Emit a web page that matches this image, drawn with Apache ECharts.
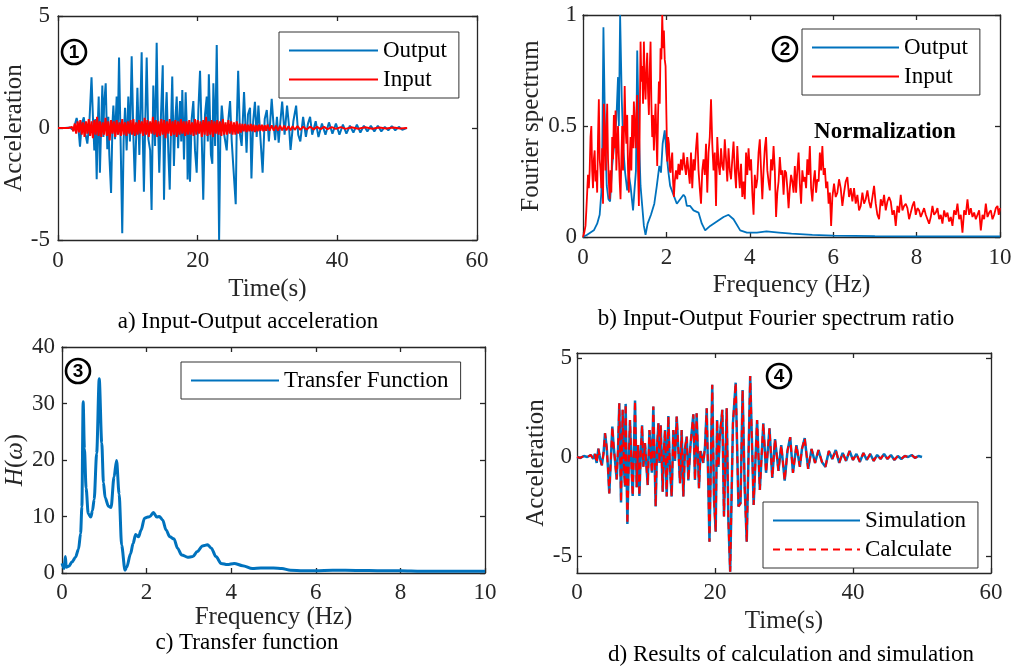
<!DOCTYPE html>
<html><head><meta charset="utf-8">
<script src="https://cdn.jsdelivr.net/npm/echarts@6/dist/echarts.min.js"></script>
<style>html,body{margin:0;padding:0;background:#fff}#c{width:1020px;height:666px}</style>
</head><body><div id="c"></div>
<script>
// ---------------- DATA ----------------
// a) Input-Output acceleration  [time s, acceleration]
const outputA = [[0,0],[1.0,0],[1.7,0.02],[2.2,-0.1],[2.67,0.45],[2.9,0.1],[3.15,-0.83],[3.4,0.2],[3.7,0.48],[3.95,-0.3],[4.2,-0.7],[4.5,0.3],[4.8,2.26],[5.0,0.5],[5.2,-1.0],[5.35,0.4],[5.54,-2.29],[5.7,0.2],[5.83,1.4],[6.0,-2.0],[6.2,0.3],[6.35,1.9],[6.5,-0.4],[6.6,1.0],[6.83,2.0],[7.06,-0.95],[7.2,0.5],[7.35,-1.2],[7.6,-2.9],[7.8,0.2],[7.93,1.0],[8.16,-0.5],[8.4,1.4],[8.55,-0.3],[8.74,3.15],[8.98,-0.8],[9.2,-4.7],[9.4,-0.5],[9.6,0.9],[9.83,-1.0],[10.07,1.4],[10.3,-0.6],[10.55,3.2],[10.8,-0.4],[11.0,-2.4],[11.2,-0.3],[11.37,1.8],[11.65,-1.2],[11.98,3.38],[12.15,-0.5],[12.3,-2.85],[12.5,0.3],[12.7,3.15],[12.94,-0.5],[13.2,-1.0],[13.4,-3.66],[13.65,1.9],[13.9,-0.8],[14.13,3.8],[14.3,0.4],[14.5,-2.0],[14.75,0.6],[15.0,2.8],[15.18,-3.2],[15.4,0.5],[15.56,1.6],[15.8,-1.1],[16.0,-2.75],[16.2,0.3],[16.36,2.3],[16.6,-1.7],[16.8,0.4],[17.0,1.4],[17.2,-0.9],[17.47,1.2],[17.65,-0.6],[17.8,1.7],[18.04,-1.4],[18.28,1.6],[18.5,-0.5],[18.56,-2.3],[18.75,0.2],[18.9,-2.4],[19.14,0.4],[19.38,1.2],[19.62,-1.0],[19.86,-2.0],[20.1,0.8],[20.34,2.55],[20.58,-0.4],[20.8,-3.2],[21.05,0.6],[21.3,1.4],[21.45,-0.6],[21.6,2.4],[21.9,-1.2],[22.1,-1.6],[22.25,2.0],[22.5,-0.8],[22.73,3.7],[22.9,-0.2],[23.07,-5.0],[23.25,-0.3],[23.45,1.0],[23.8,-0.3],[24.16,-1.0],[24.4,0.4],[24.64,1.2],[24.88,-0.6],[25.1,-1.7],[25.45,-3.4],[25.6,0.2],[25.8,2.55],[26.06,-0.3],[26.3,-0.8],[26.64,1.6],[27.0,-1.1],[27.2,0.6],[27.5,0.9],[27.7,-2.25],[27.95,0.3],[28.2,1.17],[28.45,-0.4],[28.7,1.0],[29.0,-0.5],[29.3,-2.0],[29.6,0.4],[29.9,0.8],[30.2,-0.6],[30.6,1.3],[30.85,0.2],[31.1,-0.54],[31.35,0.5],[31.6,-0.65],[31.85,0.3],[32.1,1.18],[32.45,-0.3],[32.8,1.0],[33.05,0.2],[33.3,-0.98],[33.7,0.3],[34.1,1.0],[34.4,-0.3],[34.7,-0.6],[35.1,0.5],[35.5,-0.4],[35.8,0.2],[36.1,0.5],[36.4,-0.3],[36.9,0.3],[37.3,-0.4],[37.8,0.2],[38.3,-0.3],[38.8,0.25],[39.3,-0.25],[39.8,0.2],[40.3,-0.3],[40.8,0.15],[41.3,-0.25],[41.8,0.1],[42.3,-0.2],[42.8,0.15],[43.3,-0.2],[43.8,0.1],[44.3,-0.15],[44.8,0.1],[45.3,-0.15],[45.8,0.1],[46.3,-0.15],[46.8,0.05],[47.3,-0.1],[47.8,0.08],[48.3,-0.1],[48.8,0.05],[49.3,-0.08],[49.9,0]];
const inputA = [[0,0],[1.5,0],[2.0,0.05],[2.2,-0.15],[2.4,0.2],[2.6,-0.25],[2.8,0.3],[3.0,-0.2],[3.2,0.35],[3.4,-0.3],[3.6,0.25],[3.8,-0.4],[4.0,0.3],[4.2,-0.25],[4.4,0.4],[4.6,-0.35],[4.8,0.3],[5.0,-0.45],[5.2,0.35],[5.4,-0.3],[5.6,0.5],[5.8,-0.35],[6.0,0.3],[6.2,-0.4],[6.4,0.25],[6.6,-0.3],[6.8,0.45],[7.0,-0.35],[7.2,0.3],[7.4,-0.55],[7.6,0.35],[7.8,-0.25],[8.0,0.3],[8.2,-0.4],[8.4,0.35],[8.6,-0.3],[8.8,0.25],[9.0,-0.35],[9.2,0.4],[9.4,-0.3],[9.6,0.25],[9.8,-0.35],[10.0,0.3],[10.2,-0.25],[10.4,0.35],[10.6,-0.3],[10.8,0.4],[11.0,-0.35],[11.2,0.25],[11.4,-0.3],[11.6,0.35],[11.8,-0.25],[12.0,0.3],[12.2,-0.35],[12.4,0.45],[12.6,-0.3],[12.8,0.35],[13.0,-0.4],[13.2,0.3],[13.4,-0.25],[13.6,0.5],[13.8,-0.3],[14.0,0.35],[14.2,-0.4],[14.4,0.3],[14.6,-0.35],[14.8,0.4],[15.0,-0.3],[15.2,0.35],[15.4,-0.45],[15.6,0.3],[15.8,-0.25],[16.0,0.4],[16.2,-0.35],[16.4,0.3],[16.6,-0.3],[16.8,0.35],[17.0,-0.4],[17.2,0.3],[17.4,-0.3],[17.6,0.4],[17.8,-0.25],[18.0,0.3],[18.2,-0.35],[18.4,0.3],[18.6,-0.3],[18.8,0.35],[19.0,-0.3],[19.2,0.25],[19.4,-0.35],[19.6,0.4],[19.8,-0.3],[20.0,0.35],[20.2,-0.25],[20.4,0.3],[20.6,-0.4],[20.8,0.35],[21.0,-0.3],[21.2,0.5],[21.4,-0.35],[21.6,0.3],[21.8,-0.3],[22.0,0.35],[22.2,-0.4],[22.4,0.3],[22.6,-0.25],[22.8,0.35],[23.0,-0.3],[23.2,0.3],[23.4,-0.35],[23.6,0.4],[23.8,-0.3],[24.0,0.25],[24.2,-0.3],[24.4,0.35],[24.6,-0.25],[24.8,0.3],[25.0,-0.3],[25.2,0.25],[25.4,-0.3],[25.6,0.3],[25.8,-0.25],[26.0,0.2],[26.2,-0.2],[26.4,0.18],[26.6,-0.15],[26.8,0.18],[27.0,-0.18],[27.2,0.15],[27.4,-0.15],[27.6,0.18],[27.8,-0.15],[28.0,0.15],[28.2,-0.18],[28.4,0.12],[28.6,-0.15],[28.8,0.15],[29.0,-0.12],[29.2,0.15],[29.4,-0.15],[29.6,0.12],[29.8,-0.12],[30.0,0.15],[30.3,-0.12],[30.6,0.12],[30.9,-0.12],[31.2,0.1],[31.5,-0.12],[31.8,0.1],[32.1,-0.1],[32.4,0.1],[32.7,-0.1],[33.0,0.08],[33.3,-0.1],[33.6,0.08],[33.9,-0.08],[34.3,0.08],[34.7,-0.08],[35.1,0.06],[35.6,-0.07],[36.1,0.06],[36.6,-0.06],[37.1,0.05],[37.6,-0.05],[38.1,0.05],[38.6,-0.05],[39.2,0.04],[39.8,-0.04],[40.5,0.04],[41.2,-0.04],[42,0.03],[43,-0.03],[44,0.03],[45,-0.03],[46,0.02],[47,-0.02],[48,0.02],[49,-0.02],[50,0]];

// b) Normalized Fourier spectrum [frequency Hz, amplitude]
const outputB = [[0,0],[0.1,0.01],[0.18,0.02],[0.26,0.03],[0.34,0.06],[0.4,0.1],[0.44,0.2],[0.46,0.35],[0.49,0.945],[0.53,0.47],[0.57,0.23],[0.61,0.17],[0.65,0.16],[0.7,0.32],[0.75,0.42],[0.8,0.53],[0.84,0.72],[0.86,0.5],[0.89,1.0],[0.93,0.62],[0.97,0.39],[1.01,0.29],[1.06,0.21],[1.1,0.28],[1.14,0.23],[1.2,0.12],[1.23,0.2],[1.27,0.3],[1.3,0.84],[1.34,0.47],[1.38,0.23],[1.42,0.14],[1.46,0.05],[1.5,0.01],[1.55,0.06],[1.63,0.1],[1.71,0.15],[1.77,0.23],[1.83,0.32],[1.87,0.29],[1.91,0.42],[1.96,0.48],[2.0,0.38],[2.05,0.29],[2.09,0.23],[2.17,0.19],[2.25,0.15],[2.33,0.17],[2.41,0.19],[2.45,0.18],[2.49,0.14],[2.57,0.14],[2.65,0.12],[2.77,0.11],[2.85,0.06],[2.93,0.03],[3.05,0.05],[3.21,0.07],[3.37,0.09],[3.49,0.1],[3.61,0.08],[3.77,0.03],[3.93,0.02],[4.17,0.02],[4.4,0.025],[4.7,0.02],[5.0,0.015],[5.5,0.01],[6.0,0.006],[7.0,0.004],[8.0,0.003],[9.0,0.003],[10.0,0.003]];
const inputB = [[0,0],[0.03,0.02],[0.06,0.05],[0.08,0.12],[0.1,0.2],[0.12,0.28],[0.14,0.22],[0.16,0.3],[0.18,0.45],[0.2,0.5],[0.22,0.3],[0.24,0.22],[0.26,0.35],[0.28,0.39],[0.3,0.25],[0.32,0.3],[0.34,0.2],[0.36,0.45],[0.38,0.62],[0.4,0.35],[0.42,0.3],[0.44,0.22],[0.46,0.4],[0.48,0.15],[0.5,0.6],[0.52,0.5],[0.54,0.3],[0.56,0.45],[0.58,0.6],[0.6,0.35],[0.62,0.25],[0.64,0.17],[0.66,0.3],[0.68,0.2],[0.7,0.45],[0.72,0.35],[0.74,0.55],[0.76,0.4],[0.78,0.57],[0.8,0.3],[0.82,0.42],[0.84,0.5],[0.86,0.36],[0.88,0.25],[0.9,0.17],[0.92,0.35],[0.94,0.5],[0.96,0.3],[0.98,0.45],[1.0,0.68],[1.02,0.5],[1.04,0.42],[1.06,0.55],[1.08,0.3],[1.1,0.2],[1.12,0.35],[1.14,0.45],[1.16,0.3],[1.18,0.55],[1.2,0.4],[1.22,0.61],[1.24,0.5],[1.26,0.4],[1.28,0.55],[1.3,0.64],[1.32,0.3],[1.34,0.14],[1.36,0.5],[1.38,0.88],[1.4,0.7],[1.42,0.77],[1.44,0.6],[1.46,0.88],[1.48,0.7],[1.5,0.62],[1.52,0.75],[1.54,0.83],[1.56,0.65],[1.58,0.55],[1.6,0.75],[1.62,0.88],[1.64,0.6],[1.66,0.45],[1.68,0.55],[1.7,0.39],[1.72,0.5],[1.74,0.6],[1.76,0.45],[1.78,0.32],[1.8,0.55],[1.82,0.7],[1.84,0.6],[1.86,0.85],[1.88,0.8],[1.9,1.0],[1.92,0.85],[1.94,0.93],[1.96,0.8],[1.98,0.77],[2.0,0.55],[2.02,0.34],[2.04,0.45],[2.06,0.42],[2.08,0.3],[2.1,0.29],[2.12,0.35],[2.14,0.38],[2.16,0.25],[2.18,0.18],[2.2,0.25],[2.23,0.3],[2.26,0.26],[2.29,0.33],[2.32,0.28],[2.35,0.35],[2.38,0.3],[2.41,0.38],[2.44,0.32],[2.47,0.28],[2.5,0.36],[2.53,0.3],[2.56,0.24],[2.59,0.38],[2.62,0.22],[2.65,0.35],[2.68,0.3],[2.71,0.4],[2.74,0.47],[2.77,0.3],[2.8,0.22],[2.83,0.15],[2.86,0.3],[2.89,0.35],[2.92,0.28],[2.95,0.42],[2.98,0.2],[3.01,0.38],[3.04,0.45],[3.07,0.62],[3.1,0.42],[3.13,0.3],[3.16,0.38],[3.19,0.14],[3.22,0.45],[3.25,0.33],[3.28,0.28],[3.31,0.4],[3.34,0.32],[3.37,0.3],[3.4,0.44],[3.43,0.35],[3.46,0.25],[3.49,0.4],[3.52,0.3],[3.55,0.26],[3.58,0.35],[3.61,0.43],[3.64,0.3],[3.67,0.22],[3.7,0.41],[3.73,0.3],[3.76,0.22],[3.79,0.33],[3.82,0.18],[3.85,0.25],[3.88,0.17],[3.91,0.38],[3.94,0.28],[3.97,0.4],[4.0,0.3],[4.03,0.35],[4.06,0.2],[4.09,0.1],[4.12,0.28],[4.15,0.22],[4.18,0.26],[4.21,0.38],[4.24,0.44],[4.27,0.3],[4.3,0.17],[4.33,0.3],[4.36,0.4],[4.39,0.45],[4.42,0.3],[4.45,0.25],[4.48,0.21],[4.51,0.35],[4.54,0.3],[4.57,0.41],[4.6,0.3],[4.63,0.09],[4.66,0.2],[4.69,0.25],[4.72,0.36],[4.75,0.28],[4.78,0.3],[4.81,0.19],[4.84,0.3],[4.87,0.29],[4.9,0.22],[4.93,0.13],[4.96,0.22],[4.99,0.28],[5.02,0.25],[5.05,0.2],[5.08,0.32],[5.11,0.2],[5.14,0.3],[5.17,0.38],[5.2,0.24],[5.23,0.15],[5.26,0.3],[5.29,0.25],[5.32,0.27],[5.35,0.22],[5.38,0.35],[5.41,0.28],[5.44,0.41],[5.47,0.22],[5.5,0.16],[5.53,0.25],[5.56,0.3],[5.59,0.2],[5.62,0.26],[5.65,0.25],[5.68,0.38],[5.71,0.3],[5.74,0.41],[5.77,0.28],[5.8,0.31],[5.83,0.22],[5.86,0.25],[5.89,0.15],[5.92,0.2],[5.95,0.05],[5.98,0.18],[6.02,0.24],[6.06,0.18],[6.1,0.2],[6.14,0.26],[6.18,0.22],[6.22,0.14],[6.26,0.2],[6.3,0.25],[6.34,0.27],[6.38,0.18],[6.42,0.22],[6.46,0.16],[6.5,0.22],[6.54,0.15],[6.58,0.19],[6.62,0.12],[6.66,0.14],[6.7,0.2],[6.74,0.15],[6.78,0.17],[6.82,0.21],[6.86,0.16],[6.9,0.13],[6.94,0.18],[6.98,0.23],[7.02,0.15],[7.06,0.1],[7.1,0.08],[7.14,0.17],[7.18,0.14],[7.22,0.19],[7.26,0.12],[7.3,0.16],[7.34,0.18],[7.38,0.16],[7.42,0.1],[7.46,0.12],[7.5,0.05],[7.54,0.14],[7.58,0.11],[7.62,0.19],[7.66,0.12],[7.7,0.14],[7.74,0.15],[7.78,0.13],[7.82,0.08],[7.86,0.11],[7.9,0.14],[7.94,0.16],[7.98,0.1],[8.02,0.13],[8.06,0.12],[8.1,0.09],[8.14,0.11],[8.18,0.13],[8.22,0.1],[8.26,0.08],[8.3,0.06],[8.34,0.09],[8.38,0.14],[8.42,0.1],[8.46,0.11],[8.5,0.13],[8.54,0.08],[8.58,0.1],[8.62,0.06],[8.66,0.12],[8.7,0.09],[8.74,0.11],[8.78,0.07],[8.82,0.09],[8.86,0.05],[8.9,0.12],[8.94,0.1],[8.98,0.15],[9.02,0.08],[9.06,0.1],[9.1,0.02],[9.14,0.12],[9.18,0.1],[9.22,0.17],[9.26,0.1],[9.3,0.13],[9.34,0.09],[9.38,0.11],[9.42,0.08],[9.46,0.1],[9.5,0.12],[9.54,0.03],[9.58,0.1],[9.62,0.08],[9.66,0.15],[9.7,0.09],[9.74,0.11],[9.78,0.12],[9.82,0.08],[9.86,0.1],[9.9,0.13],[9.94,0.14],[9.97,0.1],[10,0.13]];

// c) Transfer function [frequency Hz, |H|]
const transferC = [[0,1.7],[0.05,0.8],[0.08,2.9],[0.1,1.0],[0.16,1.2],[0.24,2.0],[0.32,2.8],[0.39,4.2],[0.44,7],[0.47,11.7],[0.5,30.3],[0.53,22],[0.57,15],[0.62,10.5],[0.68,9.9],[0.72,11],[0.76,13],[0.82,21.2],[0.88,34.4],[0.94,23],[0.98,16],[1.02,13.3],[1.1,11.8],[1.16,11.6],[1.23,17],[1.29,19.9],[1.35,14],[1.41,4.9],[1.49,0.5],[1.53,1.0],[1.62,3.4],[1.68,5.2],[1.74,6.8],[1.81,6.4],[1.87,7.6],[1.95,9.7],[2.03,9.9],[2.08,10],[2.16,10.7],[2.24,9.9],[2.3,10.0],[2.38,9.4],[2.46,7.6],[2.55,6.4],[2.65,6.0],[2.73,4.4],[2.83,3.2],[2.97,2.8],[3.09,2.9],[3.2,3.8],[3.32,4.8],[3.44,5.0],[3.53,4.4],[3.64,2.9],[3.76,1.7],[3.91,1.5],[4.07,1.7],[4.27,1.3],[4.5,0.8],[4.7,0.9],[5.0,0.9],[5.2,0.8],[5.4,0.5],[5.7,0.4],[6.0,0.4],[6.4,0.5],[7.0,0.45],[7.5,0.4],[8.0,0.4],[8.5,0.3],[9.0,0.3],[9.5,0.3],[10,0.3]];

// d) Simulation vs calculation [time s, acceleration]
const simulationD = [[0,0],[0.5,-0.05],[1.0,0.05],[1.5,0.0],[2.0,0.1],[2.36,-0.1],[2.6,0.15],[2.85,-0.3],[3.1,0.42],[3.35,-0.1],[3.6,-0.42],[3.85,0.2],[4.06,1.2],[4.3,0.5],[4.5,-0.6],[4.68,-1.84],[4.9,-0.2],[5.12,1.53],[5.3,0.6],[5.5,-0.15],[5.75,-1.13],[5.95,0.4],[6.13,2.71],[6.38,-2.3],[6.62,2.38],[6.8,-0.5],[6.96,-1.5],[7.05,2.68],[7.3,-3.39],[7.5,-0.3],[7.68,1.87],[7.9,-0.5],[8.07,-1.97],[8.25,0.4],[8.41,2.85],[8.65,-1.53],[8.85,0.6],[9.04,-1.97],[9.25,0.3],[9.43,1.6],[9.62,-0.49],[9.85,0.7],[10.05,-0.4],[10.25,-1.42],[10.5,1.36],[10.7,0.2],[10.85,-0.8],[11.06,2.55],[11.4,-2.5],[11.6,0.5],[11.8,1.7],[11.95,-0.3],[12.13,1.6],[12.42,-1.75],[12.6,0.3],[12.76,1.36],[13.0,-2.0],[13.24,2.07],[13.45,-0.4],[13.72,-2.0],[13.96,1.36],[14.2,-0.2],[14.45,2.04],[14.7,0.3],[14.93,-1.33],[15.17,1.36],[15.41,-2.0],[15.65,0.4],[15.9,1.03],[16.14,-1.19],[16.45,0.6],[16.86,2.15],[17.1,-1.16],[17.34,2.2],[17.68,-1.58],[17.9,0.3],[18.07,0.08],[18.3,-0.3],[18.55,0.5],[18.8,2.46],[19.2,-4.28],[19.6,3.64],[19.86,-2.17],[20.1,-3.77],[20.3,1.87],[20.5,-0.5],[20.7,1.03],[21.06,2.38],[21.3,-3.01],[21.7,2.46],[21.93,-3.1],[22.2,-5.79],[22.6,1.7],[23.0,3.75],[23.4,-2.5],[23.7,-2.34],[24.0,3.38],[24.3,-1.5],[24.6,-4.28],[25.1,4.09],[25.6,-2.42],[26.1,1.87],[26.5,-1.67],[27.0,1.7],[27.4,-0.8],[27.9,1.45],[28.3,-1.06],[28.7,0.9],[29.2,-0.7],[29.6,0.6],[30.1,-1.2],[30.5,0.3],[30.9,1.0],[31.3,-0.8],[31.8,0.6],[32.3,-0.5],[32.6,0.4],[33.0,0.95],[33.5,-0.6],[34.0,0.4],[34.5,-0.3],[35.0,0.35],[35.5,-0.25],[36.0,-0.5],[36.5,0.3],[37.0,-0.1],[37.5,0.35],[38.0,-0.3],[38.5,0.2],[39.0,-0.2],[39.5,0.3],[40.0,-0.15],[40.5,0.15],[41.0,-0.25],[41.5,0.2],[42.0,-0.15],[42.5,0.15],[43.0,-0.2],[43.5,0.1],[44.0,-0.1],[44.5,0.15],[45.0,-0.1],[45.5,0.1],[46.0,-0.15],[46.5,0.05],[47.0,-0.1],[47.5,0.05],[48.0,0.0],[48.5,0.1],[49.0,-0.05],[49.5,0.05],[50.0,0.0]];
const calculateD = simulationD; // the calculated response coincides with the simulation

// tick values
const ticksTime = [0, 20, 40, 60];
const ticksFreq = [0, 2, 4, 6, 8, 10];
const ticksAccA = [-5, 0, 5];
const ticksSpec = [0, 0.5, 1];
const ticksH = [0, 10, 20, 30, 40];
const ticksAccD = [-5, 0, 5];

// ---------------- CHART ----------------
const FONT = '"Liberation Serif", "Times New Roman", serif';
const AX = '#262626';
const BLUE = '#0072BD', RED = '#FF0000';

function axisPair(kind, gi, min, max, ticks, name, nameGap, margin, nameRich) {
  const lineStyle = {color: AX, width: 1.3};
  const nts = {fontFamily: FONT, fontSize: 25, color: AX};
  if (nameRich) nts.rich = nameRich;
  const main = {
    type: 'value', gridIndex: gi, min, max,
    position: kind === 'x' ? 'bottom' : 'left',
    name, nameLocation: 'middle', nameGap, nameTextStyle: nts,
    axisLine: {show: true, onZero: false, lineStyle},
    axisTick: {show: true, inside: true, length: 5, customValues: ticks, lineStyle},
    axisLabel: {show: true, margin, customValues: ticks, fontFamily: FONT, fontSize: 23, color: AX,
      showMinLabel: true, showMaxLabel: true, hideOverlap: false},
    splitLine: {show: false}
  };
  const mirror = {
    type: 'value', gridIndex: gi, min, max,
    position: kind === 'x' ? 'top' : 'right',
    axisLine: {show: true, onZero: false, lineStyle},
    axisTick: {show: true, inside: true, length: 5, customValues: ticks, lineStyle},
    axisLabel: {show: false},
    splitLine: {show: false}
  };
  return [main, mirror];
}

const xAxes = [].concat(
  axisPair('x', 0, 0, 60, ticksTime, 'Time(s)', 37, 9),
  axisPair('x', 1, 0, 10, ticksFreq, 'Frequency (Hz)', 36, 9),
  axisPair('x', 2, 0, 10, ticksFreq, 'Frequency (Hz)', 32, 8),
  axisPair('x', 3, 0, 60, ticksTime, 'Time(s)', 36, 8)
);
const yAxes = [].concat(
  axisPair('y', 0, -5, 5, ticksAccA, 'Acceleration', 29, 8),
  axisPair('y', 1, 0, 1, ticksSpec, 'Fourier spectrum', 38, 6),
  axisPair('y', 2, 0, 40, ticksH, '{i|H}({i|\u03c9})', 33, 7,
    {i: {fontFamily: FONT, fontSize: 25, fontStyle: 'italic', color: AX}}),
  axisPair('y', 3, -5.86, 5.25, ticksAccD, 'Acceleration', 28, 5)
);

function line(name, data, gi, color, width, dash, z, smooth) {
  const s = {
    type: 'line', name, data, xAxisIndex: gi * 2, yAxisIndex: gi * 2,
    showSymbol: false, symbol: 'none', animation: false, z: z || 2,
    lineStyle: {color, width, type: dash || 'solid'}, itemStyle: {color}
  };
  if (smooth) { s.smooth = smooth; s.smoothMonotone = 'x'; }
  return s;
}

const legendBase = {
  orient: 'vertical', itemHeight: 22, itemGap: 6, padding: [7, 12, 7, 9],
  borderColor: '#333', borderWidth: 1, backgroundColor: '#fff', borderRadius: 0,
  selectedMode: false, textStyle: {fontFamily: FONT, fontSize: 23, color: '#000'},
  itemStyle: {color: 'rgba(0,0,0,0)', borderWidth: 0, opacity: 0}
};

function txt(x, y, text, size, extra) {
  return {type: 'text', x, y, z: 100, style: Object.assign({
    text, fontFamily: FONT, fontSize: size, fill: '#000',
    align: 'center', verticalAlign: 'middle', textAlign: 'center', textVerticalAlign: 'middle'
  }, extra || {})};
}
function circled(x, y, digit) {
  return {type: 'group', x, y, z: 100, children: [
    {type: 'circle', shape: {cx: 0, cy: 0, r: 12}, style: {fill: 'none', stroke: '#000', lineWidth: 2.6}},
    {type: 'text', style: {text: digit, x: 0, y: 1, fontFamily: '"Liberation Sans", Arial, sans-serif',
      fontSize: 19, fontWeight: 'bold', fill: '#000', align: 'center', verticalAlign: 'middle',
      textAlign: 'center', textVerticalAlign: 'middle'}}
  ]};
}

const option = {
  backgroundColor: '#fff',
  animation: false,
  grid: [
    {left: 58, top: 16, width: 419, height: 224},
    {left: 583, top: 15, width: 417, height: 222},
    {left: 62, top: 347, width: 423, height: 226},
    {left: 577, top: 353, width: 414, height: 220}
  ],
  xAxis: xAxes,
  yAxis: yAxes,
  legend: [
    Object.assign({}, legendBase, {data: ['Output', 'Input'], left: 279, top: 32, itemWidth: 89}),
    Object.assign({}, legendBase, {data: ['Output', 'Input'], left: 802, top: 29, itemWidth: 87}),
    Object.assign({}, legendBase, {data: ['Transfer Function'], left: 181, top: 362, itemWidth: 88}),
    Object.assign({}, legendBase, {data: ['Simulation', 'Calculate'], left: 763, top: 502, itemWidth: 87})
  ],
  series: [
    line('Output', outputA, 0, BLUE, 2),
    line('Input', inputA, 0, RED, 2, null, 3),
    line('Output', outputB, 1, BLUE, 1.8),
    line('Input', inputB, 1, RED, 1.8, null, 3),
    line('Transfer Function', transferC, 2, BLUE, 3, null, 2, 0.3),
    line('Simulation', simulationD, 3, BLUE, 2.5),
    line('Calculate', calculateD, 3, RED, 2, [7, 5], 3)
  ],
  graphic: [
    txt(248, 322, 'a) Input-Output acceleration', 23),
    txt(776, 319, 'b) Input-Output Fourier spectrum ratio', 23),
    txt(247, 643, 'c) Transfer function', 23),
    txt(791, 655, 'd) Results of calculation and simulation', 23),
    txt(885, 132, 'Normalization', 23, {fontWeight: 'bold'}),
    circled(74, 52, '1'),
    circled(785, 49, '2'),
    circled(78, 371, '3'),
    circled(779, 376, '4')
  ]
};

const chart = echarts.init(document.getElementById('c'), null, {renderer: 'canvas'});
chart.setOption(option);
</script>
</body></html>
